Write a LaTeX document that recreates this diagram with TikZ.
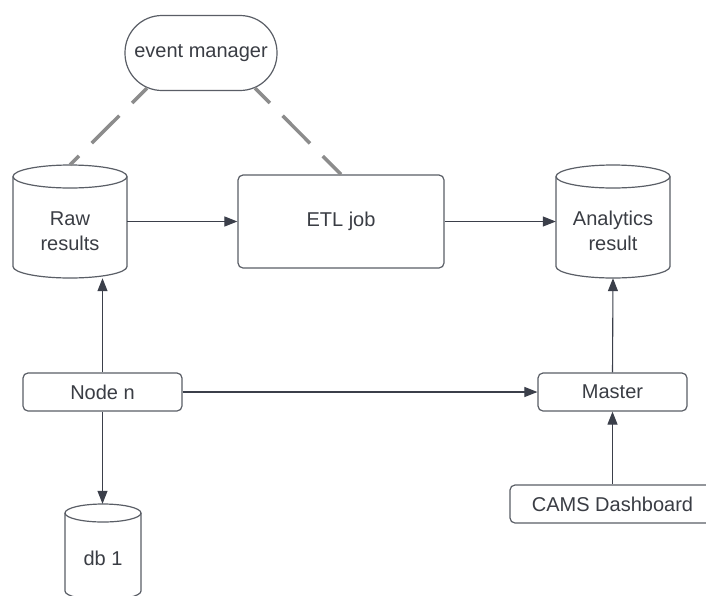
\documentclass[tikz,border=0pt]{standalone}
\usepackage{fontspec}
\setmainfont{Liberation Sans}
\usetikzlibrary{arrows.meta}

\definecolor{edge}{HTML}{5A5E66}
\definecolor{ink}{HTML}{3A3D44}
\definecolor{wire}{HTML}{3B3F4A}
\definecolor{linkgray}{HTML}{8C8C8C}

\tikzset{
  lbl/.style={text=ink, font=\fontsize{20}{25}\selectfont, align=center},
  procbox/.style={draw=edge, line width=1.2pt, rounded corners=5pt, fill=white,
    inner sep=0pt, lbl},
  stadium/.style={draw=edge, line width=1.2pt, rounded corners=37pt, fill=white,
    inner sep=0pt, lbl, minimum width=152pt, minimum height=75pt},
  dbarea/.style={rectangle, inner sep=0pt},
  cylline/.style={draw=edge, line width=1.2pt, fill=white},
  flow/.style={draw=wire, line width=1.1pt, -{Triangle[length=13pt,width=10pt]}},
  link/.style={draw=linkgray, line width=3.5pt, dash pattern=on 39pt off 18pt,
    dash phase=18pt},
}

% database drum: centre x, top y, bottom y, half width, half height of the end caps
\newcommand\dbcyl[5]{%
  \filldraw[cylline] ({#1-#4},{#2-#5}) -- ({#1-#4},{#3+#5})
    arc[start angle=180, end angle=360, x radius=#4, y radius=#5]
    -- ({#1+#4},{#2-#5})
    arc[start angle=0, end angle=180, x radius=#4, y radius=#5] -- cycle;
  \draw[cylline, fill=none] ({#1-#4},{#2-#5})
    arc[start angle=180, end angle=360, x radius=#4, y radius=#5];
}

\begin{document}
\begin{tikzpicture}[x=1pt, y=1pt]
  \fill[white] (0,0) rectangle (706,-595);
  \useasboundingbox (0,0) rectangle (706,-595);

  % storage drums
  \dbcyl{70}{-165}{-278}{57}{11.5}
  \dbcyl{613}{-165}{-278}{57}{11.5}
  \dbcyl{103}{-504}{-600}{38}{9}

  \node[dbarea, minimum width=114pt, minimum height=113pt] (raw) at (70,-221.5) {};
  \node[lbl] (raw-txt) at (70,-231) {Raw\\results};
  \node[dbarea, minimum width=114pt, minimum height=113pt] (ana) at (613,-221.5) {};
  \node[lbl] (ana-txt) at (613,-231) {Analytics\\result};
  \node[dbarea, minimum width=76pt, minimum height=96pt] (db) at (103,-552) {};
  \node[lbl] (db-txt) at (103,-558) {db 1};

  % processes
  \node[stadium] (em) at (201,-53) {event manager};
  \node[procbox, minimum width=206pt, minimum height=93pt] (etl) at (341,-221.5) {ETL job};
  \node[procbox, minimum width=159pt, minimum height=38pt] (noden) at (102.5,-392) {Node n};
  \node[procbox, minimum width=149pt, minimum height=38pt] (master) at (612.5,-392) {Master};
  \node[procbox, minimum width=205pt, minimum height=38pt] (cams) at (612.5,-504) {CAMS Dashboard};

  % event manager links
  \draw[link] ([xshift=-54pt, yshift=3pt]em.south) -- (raw.north);
  \draw[link] ([xshift=54pt, yshift=3pt]em.south) -- (etl.north);

  % data flow
  \draw[flow] (raw.east) -- (etl.west);
  \draw[flow] (etl.east) -- (ana.west);
  \draw[flow] (noden.north) -- (noden.north |- raw.south);
  \draw[flow] (noden.south) -- (noden.south |- db.north);
  \draw[flow] (noden.east) -- (master.west);
  \draw[flow] (master.north) -- (ana.south);
  \draw[flow] (cams.north) -- (master.south);
\end{tikzpicture}
\end{document}
